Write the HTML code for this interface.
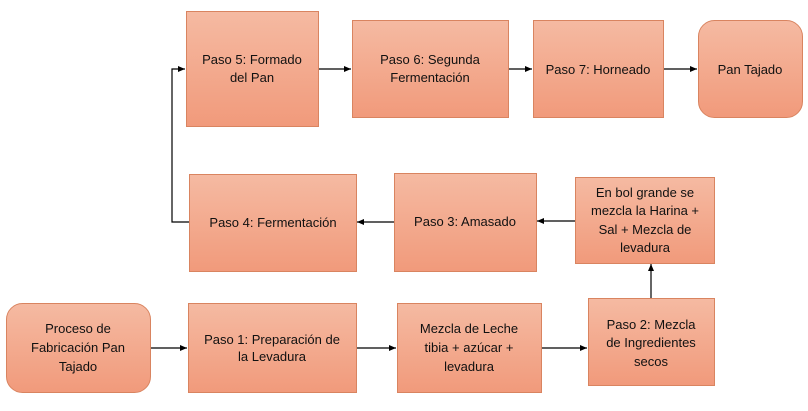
<!DOCTYPE html>
<html><head><meta charset="utf-8"><style>
body{margin:0;background:#fff}
svg{display:block}
text{font-family:"Liberation Sans",sans-serif;font-size:13px;fill:#111;text-anchor:middle}
.b{fill:url(#g);stroke:#d98460;stroke-width:1}
.l{stroke:#000;stroke-width:1.2;fill:none;marker-end:url(#a)}
</style></head><body>
<svg width="808" height="411" viewBox="0 0 808 411">
<defs>
<linearGradient id="g" x1="0" y1="0" x2="0" y2="1"><stop offset="0" stop-color="#f5baa2"/><stop offset="1" stop-color="#f19a7b"/></linearGradient>
<marker id="a" markerWidth="8" markerHeight="8" refX="7" refY="4" orient="auto" markerUnits="userSpaceOnUse"><path d="M0,1 L7,4 L0,7 Z" fill="#000"/></marker>
</defs>
<rect class="b" x="6.5" y="303.5" width="144" height="89" rx="16"/>
<rect class="b" x="188.5" y="303.5" width="168" height="89"/>
<rect class="b" x="397.5" y="303.5" width="144" height="89"/>
<rect class="b" x="588.5" y="298.5" width="126" height="87"/>
<rect class="b" x="575.5" y="177.5" width="139" height="86"/>
<rect class="b" x="394.5" y="173.5" width="142" height="98"/>
<rect class="b" x="189.5" y="174.5" width="167" height="97"/>
<rect class="b" x="186.5" y="11.5" width="132" height="115"/>
<rect class="b" x="352.5" y="20.5" width="156" height="97"/>
<rect class="b" x="533.5" y="20.5" width="130" height="97"/>
<rect class="b" x="698.5" y="20.5" width="104" height="97" rx="16"/>
<path class="l" d="M151,348H187"/>
<path class="l" d="M357,348H396"/>
<path class="l" d="M542,348H587"/>
<path class="l" d="M651,298V264"/>
<path class="l" d="M575,221H537"/>
<path class="l" d="M394,222H357"/>
<path class="l" d="M189,222H172V69H185"/>
<path class="l" d="M319,69H351"/>
<path class="l" d="M509,69H532"/>
<path class="l" d="M664,69H697"/>
<text x="78" y="333">Proceso de</text><text x="78" y="352">Fabricación Pan</text><text x="78" y="371">Tajado</text>
<text x="272" y="344">Paso 1: Preparación de</text><text x="272" y="361">la Levadura</text>
<text x="469" y="333">Mezcla de Leche</text><text x="469" y="352">tibia + azúcar +</text><text x="469" y="371">levadura</text>
<text x="651" y="329">Paso 2: Mezcla</text><text x="651" y="347">de Ingredientes</text><text x="651" y="366">secos</text>
<text x="645" y="197">En bol grande se</text><text x="645" y="215">mezcla la Harina +</text><text x="645" y="234">Sal + Mezcla de</text><text x="645" y="252">levadura</text>
<text x="465" y="226">Paso 3: Amasado</text>
<text x="273" y="227">Paso 4: Fermentación</text>
<text x="252" y="64">Paso 5: Formado</text><text x="252" y="82">del Pan</text>
<text x="430" y="64">Paso 6: Segunda</text><text x="430" y="82">Fermentación</text>
<text x="598" y="74">Paso 7: Horneado</text>
<text x="750" y="74">Pan Tajado</text>
</svg>
</body></html>
